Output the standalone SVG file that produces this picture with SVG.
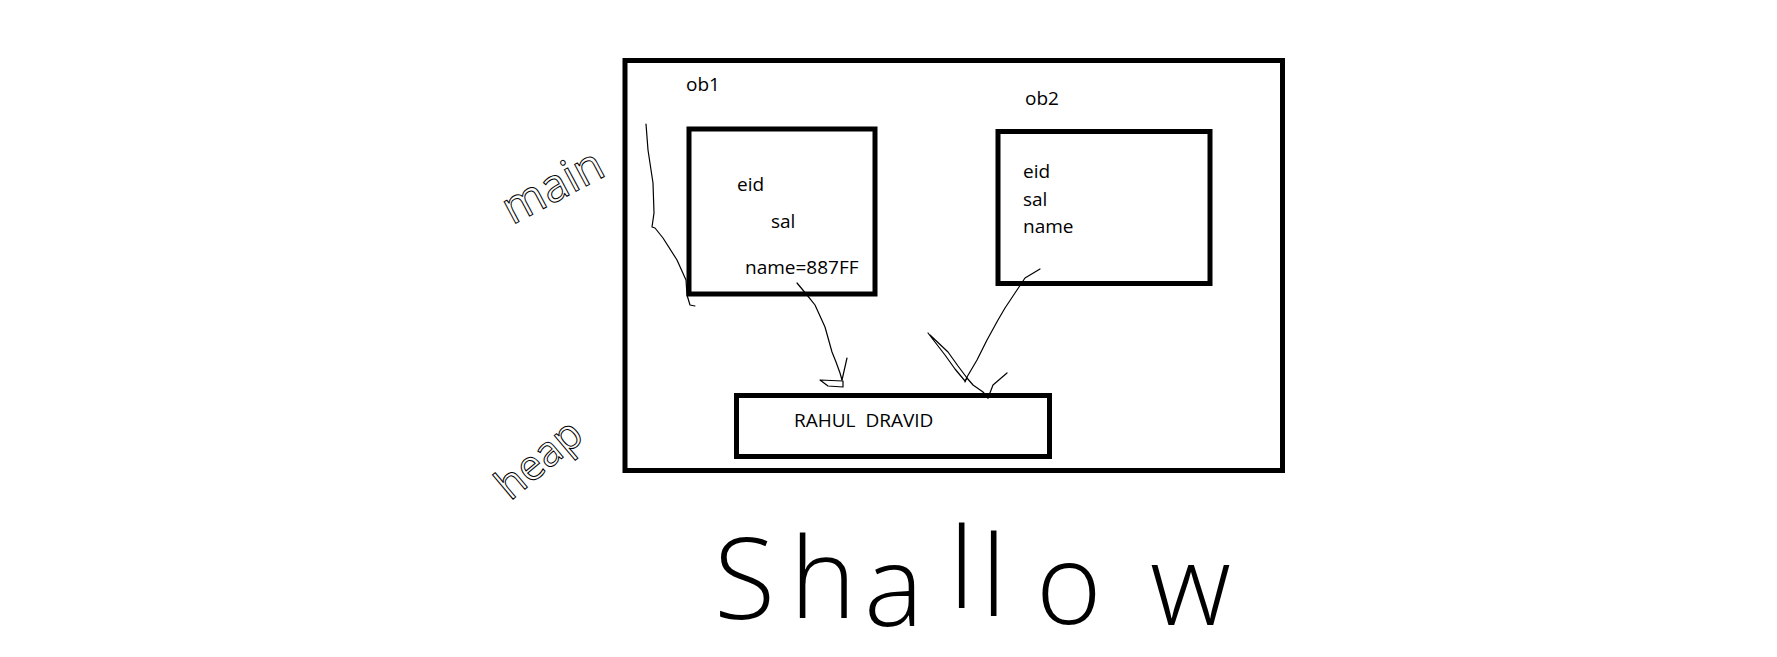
<svg xmlns="http://www.w3.org/2000/svg" width="1777" height="657" viewBox="0 0 1777 657">
<style>
.box{fill:none;stroke:#000;stroke-width:5}
.t{font-family:"Open Sans","Noto Sans","Liberation Sans",sans-serif;font-size:19px;fill:#000}
.pen{fill:none;stroke:#000;stroke-width:1.2;stroke-linejoin:round;stroke-linecap:round}
.hand{font-family:"Open Sans","Noto Sans","Liberation Sans",sans-serif;fill:none;stroke:#000;stroke-width:1}
.big{font-family:"Open Sans","Noto Sans","Liberation Sans",sans-serif;font-size:112px;font-weight:300;fill:#000}
</style>
<rect width="1777" height="657" fill="#fff"/>
<g id="memory">
<rect class="box" x="625" y="60.5" width="657.5" height="410"/>
</g>
<g id="ob1">
<text class="t" x="686" y="91">ob1</text>
<rect class="box" x="689" y="129" width="186" height="165"/>
<text class="t" x="737" y="191">eid</text>
<text class="t" x="771" y="228">sal</text>
<text class="t" x="745" y="274">name=887FF</text>
</g>
<g id="ob2">
<text class="t" x="1025" y="105">ob2</text>
<rect class="box" x="998" y="131.5" width="212" height="152"/>
<text class="t" x="1023" y="178">eid</text>
<text class="t" x="1023" y="206">sal</text>
<text class="t" x="1023" y="233">name</text>
</g>
<g id="heap-object">
<rect class="box" x="736.5" y="395.5" width="313" height="61"/>
<text class="t" x="794" y="427" xml:space="preserve">RAHUL  DRAVID</text>
</g>
<g id="labels">
<text class="hand" font-size="46" transform="translate(560 200) rotate(-28)" text-anchor="middle">main</text>
<text class="hand" font-size="42" transform="translate(548 470) rotate(-40)" text-anchor="middle">heap</text>
<text class="big" x="714 790 864 949 981 1036 1150" y="619 618 626 608 616 624 625">Shallow</text>
</g>
<g id="connectors">
<path class="pen" d="M646,124 L648,150 L653,183 L654,213 L652,227 L655,228 L663,238 L677,260 L686,280 L687,295 L690,305 L695,306"/>
<path class="pen" d="M797,283 L807,295 L815,305 L825,327 L832,352 L836,362 L840,373 L842,380"/>
<path class="pen" d="M842,380 L847,358"/>
<path class="pen" d="M820,380 L843,381 L843,387 L828,386 Z"/>
<path class="pen" d="M1040,269 L1025,278 L1015,293 L1005,308 L998,320 L987,340 L977,360 L967,377 L965,382"/>
<path class="pen" d="M928,333 L945,355 L955,369 L965,381 L967,378 L958,366 L948,352 L930,335"/>
<path class="pen" d="M967,378 L973,385 L983,392 L988,398"/>
<path class="pen" d="M988,398 L993,385 L1007,373"/>
</g>
</svg>
